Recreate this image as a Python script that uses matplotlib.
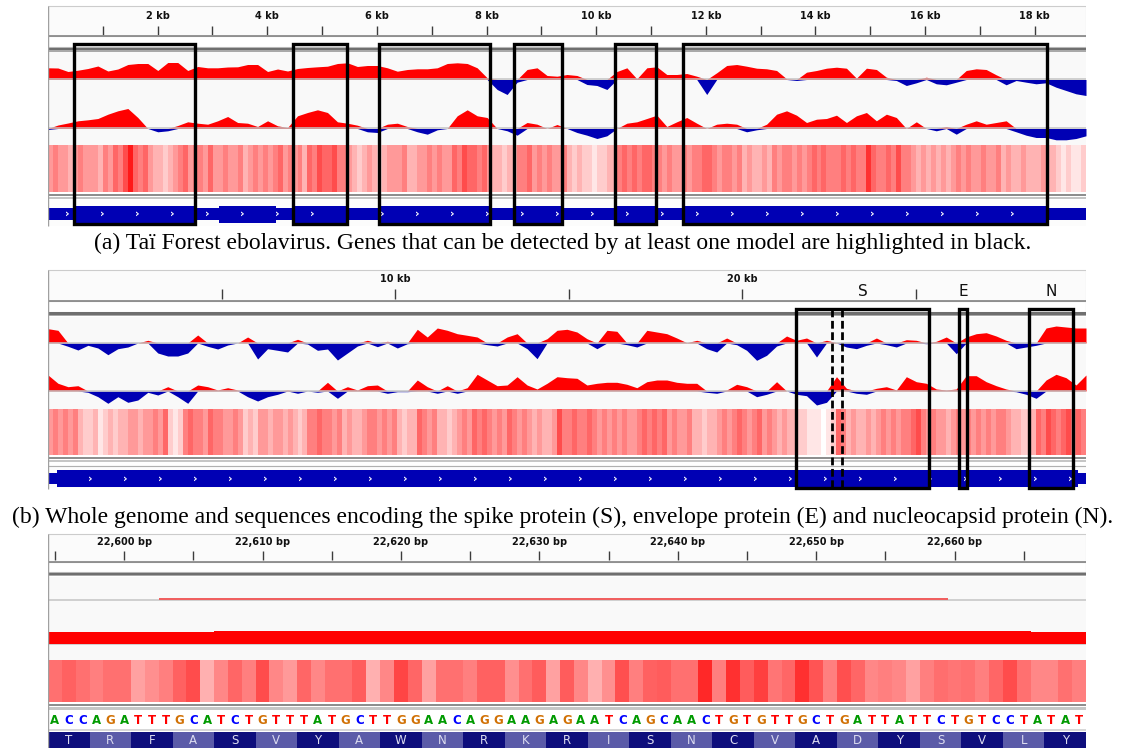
import numpy as np
import matplotlib
matplotlib.use("Agg")
import matplotlib.pyplot as plt
from matplotlib.patches import Rectangle
from matplotlib.colors import LinearSegmentedColormap

# ====================== DATA ======================
# ---- Panel (a): Tai Forest ebolavirus ----
A_GENOME_LEN = 18935
A_GENE_NAMES = ["NP", "VP35", "VP40", "GP", "VP30", "VP24", "L"]
A_GENE_START = [470, 3128, 4478, 6039, 8509, 10345, 11581]
A_GENE_END = [2689, 4151, 5459, 8068, 9375, 11100, 18219]
A_HIGHLIGHT = ["NP", "VP40", "GP", "VP30", "VP24", "L"]
A_TRACK1 = [11.7, 11.5, 8, 9.3, 11, 13.5, 8.5, 10.5, 15, 16, 16, 9, 17, 17, 9, 13, 11.7, 11.7,
            12.5, 12.7, 15, 15, 8, 10.5, 8.5, 11, 12, 12.7, 13.3, 16, 16.7, 13, 14, 14, 11.7,
            8.3, 10, 10.7, 10.7, 11.7, 16, 16.7, 16, 11.7, 1.7, -10, -15, -2.7, 10, 11.7, 4,
            3.3, 5, 4, -5, -6, -10, 8, 11.7, 0.7, 11.7, 12.7, 5, 5, 6, 3.3, -15, 6.7, 14, 15,
            13.3, 11.3, 10.7, 9, 0.7, -1, 7.3, 9, 11.3, 12.3, 11.3, 1.3, 11.3, 10, 2.3, -1, -6,
            -3.3, 2.3, -4.3, -5.3, -2.7, 9, 10.7, 10, 4.7, -5.3, -1, -2.7, -4.3, -3.3, -7.7,
            -11, -14.3, -16]
A_TRACK2 = [-1, 3.5, 5.5, 7.7, 8.7, 10, 14.3, 17.7, 20, 11, 0, -3.3, -2.3, 3, 6.7, 5.3, 4.3,
            7.7, 12, 6, 5.3, 2, 7.7, 2.7, 1, 12.7, 16, 18.7, 16, 6.7, 5.3, 3.3, -3.3, -4, 4.3,
            5.3, 2, -3.3, -5.7, -1.3, 0, 12.7, 18.7, 12.7, 11, 0, -2.3, -6.7, 6, 4.3, 0, 4, 0,
            -4, -6.7, -10, -7.3, 0, 5.3, 6.7, 10, 13.3, 2, 6.7, 11, 5.3, 0, 4.3, 5.3, 4.3,
            -3.3, -1.3, 4.3, 14.3, 17.7, 13.3, 6, 9.3, 10, 13.3, 6, 12.7, 16, 7.7, 14.3, 11, 0,
            6.7, 0, -2.3, 2, -5.7, 4.3, 7.7, 4.3, 6, 7.7, -3.3, -6.7, -9, -9, -11.3, -11.3,
            -10, -7.3]
A_HEAT = [4, 5, 4, 4, 3, 4, 5, 4, 4, 4, 3, 5, 4, 6, 5, 7, 9, 6, 5, 6, 4, 3, 3, 2, 3, 4, 5, 6,
          4, 5, 5, 4, 6, 4, 4, 5, 4, 4, 5, 3, 4, 5, 4, 5, 4, 5, 6, 4, 5, 4, 5, 3, 6, 5, 7, 6,
          6, 7, 5, 5, 4, 3, 2, 3, 4, 3, 2, 3, 4, 4,
          4, 5, 3, 3, 4, 4, 5, 4, 5, 4, 4, 6, 5, 7, 6, 6, 5, 6, 4, 3, 3, 2, 3, 3, 5, 5, 6, 4,
          5, 4, 5, 4, 4, 5, 3, 2, 3, 2, 2, 1, 2, 2, 3, 3, 5, 6, 5, 6, 5, 6, 6, 5, 5, 4, 5, 4,
          4, 5, 4, 5, 5, 6, 6, 5, 4, 5, 5, 4, 5,
          3, 4, 3, 3, 4, 3, 5, 4, 5, 5, 4, 5, 4, 5, 6, 5, 6, 5, 5, 5, 6, 5, 6, 5, 5, 8, 6, 5,
          5, 6, 5, 7, 5, 5, 4, 3, 4, 3, 4, 3, 4, 3, 4, 5, 4, 5, 4, 4, 5, 4, 4, 5, 3, 4, 3, 3,
          4, 3, 3, 3, 4, 3, 3, 2, 1, 2, 1, 1, 2]
A_CAPTION = ("(a) Taï Forest ebolavirus. Genes that can be detected by at least one model "
             "are highlighted in black.")

# ---- Panel (b): SARS-CoV-2 whole genome ----
B_GENOME_LEN = 29903
B_CDS = [266, 29674]
B_GENE_NAMES = ["S", "E", "N"]
B_GENE_START = [21563, 26245, 28274]
B_GENE_END = [25384, 26472, 29533]
B_DASHED = [22600, 22880]
B_TRACK1 = [14.3, 12.7, -3.3, -7, -2.3, -5, -11.7, -5.7, -4, 0, 2.7, -10, -13, -13, -10, 8,
            -3.3, -6, -2, 0, 6, -16, -5.7, -7.3, -9, 3.7, -1, -7.3, -6, -17, -10, -3, 2.7,
            -3.7, 1.7,
            -5, -0.7, 13.7, 6, 15, 12.7, 9.3, 7.7, 6, -1.7, -3, 6, 9.3, -5.7, -15.7, 4.3, 12.7,
            13.7, 11, 4.3, -5.7, 12.7, 11.7, -1.7, -4, 12.7, 11, 9.3, 5, 0.3, 2.7, -5.7, -9,
            5, -1.7,
            -7.3, -17.3, -12.3, -3, 7, 2.7, 5, -14, 2.7, 0.3, -4, -5.7, -2.3, 5, -1.7, -4, 3.3,
            2.7, -0.7, 1.7, 6, -10.7, 6, 9.3, 10.3, 7, 2.7, -5.7, -4, -2.3, 15, 17, 16, 15, 15]
B_TRACK2 = [16, 7.7, 4.3, 5.3, -1.3, -5.7, -12.3, -5.7, -11.3, -9, -1.3, -4, 4.3, -5.7, -12.3,
            6, 4.3, 1, 3.3, 1, -5.7, -10, -5.7, -3.3, 1, -2.3, 0, -1.3, 8.7, -7.3, 4.3, 1, 5.3,
            6, -2.3,
            -0.7, -0.7, 11, 4.3, -2.3, 5.3, -2.3, 3.3, 16.7, 11, 5.3, 6, 14.3, 6, 2, 7.7, 14.3,
            13.3, 12.7, 6, 7.7, 8.7, 8.7, 6.7, 3.3, 9.3, 11, 11, 8.7, 7.7, 7.7, -1.3, -2.3, 1,
            6.7,
            4.3, -5.7, -3.3, 9.3, 0, -3.3, -4.7, -14, -11.3, 14.3, 2.7, -2.3, -3.3, 2.7, 4.3, 1,
            14.3, 9.3, 7.7, 2, 1, 2, 15.3, 15.3, 9.3, 5.3, 2, -0.7, -3.3, -7.3, 11, 16.7, 13.3,
            6, 16]
B_HEAT = [4, 5, 4, 5, 4, 5, 3, 2, 2, 3, 1, 2, 3, 2, 3, 3, 4, 4, 3, 4, 4, 5, 4, 6, 2, 1, 2, 5,
          6, 5, 5, 4, 6, 5, 5, 4, 4, 5, 4, 2, 3, 2, 4, 4, 3, 4, 4, 3, 4, 3, 2, 3, 5, 5, 6, 5,
          5, 4, 5, 3, 4, 3, 3, 4, 5, 5, 4, 5, 4, 5,
          3, 2, 3, 3, 6, 5, 4, 5, 3, 3, 2, 3, 4, 5, 4, 6, 5, 6, 5, 4, 5, 4, 6, 5, 4, 5, 4, 3,
          4, 3, 3, 4, 7, 5, 5, 6, 5, 5, 6, 5, 4, 5, 4, 5, 4, 5, 4, 4, 5, 6, 5, 6, 5, 6, 4, 5,
          4, 4, 5, 3, 3, 2, 3, 3, 4, 5, 4, 5, 6,
          5, 4, 5, 6, 4, 5, 4, 3, 4, 3, 3, 2, 2, 1, 1, 1, 0, 1, 2, 6, 5, 3, 4, 3, 3, 4, 3, 4,
          5, 4, 5, 4, 5, 5, 6, 7, 5, 4, 5, 4, 4, 3, 4, 5, 4, 5, 4, 5, 4, 5, 4, 5, 5, 4, 3, 3,
          2, 2, 3, 6, 5, 7, 6, 5, 6, 7, 5, 6, 5]
B_CAPTION = ("(b) Whole genome and sequences encoding the spike protein (S), envelope protein (E) "
             "and nucleocapsid protein (N).")

# ---- Panel (c): zoom on the spike gene ----
C_START = 22595
C_SEQ = "ACCAGATTTGCATCTGTTTATGCTTGGAACAGGAAGAGAATCAGCAACTGTGTTGCTGATTATTCTGTCCTATAT"
C_AA = "TRFASVYAWNRKRISNCVADYSVLY"
C_TICKS = [22595, 22600, 22605, 22610, 22615, 22620, 22625, 22630, 22635, 22640, 22645,
           22650, 22655, 22660, 22665]
C_TICK_LABELS = [22600, 22610, 22620, 22630, 22640, 22650, 22660]
C_HEAT = [0.56, 0.62, 0.56, 0.50, 0.56, 0.56, 0.37, 0.44, 0.50, 0.62, 0.70, 0.31, 0.47, 0.60,
          0.50, 0.70, 0.47, 0.40, 0.60, 0.47, 0.56, 0.56, 0.64, 0.31, 0.47, 0.73, 0.60, 0.37,
          0.56, 0.56, 0.50, 0.62, 0.62, 0.44, 0.56, 0.64, 0.37,
          0.64, 0.47, 0.31, 0.44, 0.69, 0.50, 0.62, 0.64, 0.56, 0.56, 0.84, 0.50, 0.81, 0.64,
          0.75, 0.54, 0.60, 0.81, 0.67, 0.50, 0.69, 0.60, 0.47, 0.50, 0.47, 0.37, 0.50, 0.57,
          0.54, 0.56, 0.50, 0.60, 0.70, 0.56, 0.47, 0.47, 0.56, 0.50]
C_T1_EDGES = [22594.5, 22602.5, 22659.5, 22669.5]
C_T1_VALS = [0.0, 1.2, 0.0]
C_T2_EDGES = [22594.5, 22606.5, 22665.5, 22669.5]
C_T2_VALS = [12, 13, 12]

# ====================== STYLE / LAYOUT ======================
W, H = 1125, 748
X0, X1 = 48, 1086
RED = "#ff0000"
BLUE = "#0000b4"
TRACK_BG = "#f9f9f9"
NUC_COLORS = {"A": "#009a00", "C": "#0000ff", "G": "#d17105", "T": "#ff0000"}
heat_cmap = LinearSegmentedColormap.from_list("white_red", ["#ffffff", "#ff0000"])

fig = plt.figure(figsize=(W / 100, H / 100), dpi=100)
fig.patch.set_facecolor("white")


def panel_ax(top, bot, lo, hi):
    ax = fig.add_axes([X0 / W, 1 - bot / H, (X1 - X0) / W, (bot - top) / H])
    ax.set_axis_off()
    ax.set_xlim(lo, hi)
    ax.set_ylim(bot, top)
    return ax


def ruler(ax, lo, hi, top, label_y, t0, t1, line, wbot, th0, ticks, labeled, fmt):
    ax.add_patch(Rectangle((lo, top), hi - lo, line - top, fc="#fbfbfb", ec="#cccccc",
                           lw=0.8, zorder=0))
    ax.vlines(ticks, t0, t1, color="#3c3c3c", lw=1.0, zorder=2)
    for t in labeled:
        ax.text(t, label_y, fmt(t), ha="center", va="center", fontsize=7,
                fontweight="bold", color="#111111", family="DejaVu Sans")
    ax.hlines(line, lo, hi, color="#8c8c8c", lw=1.3, zorder=2)
    ax.add_patch(Rectangle((lo, line), hi - lo, wbot - line, fc="white", ec="#b8b8b8",
                           lw=0.8, zorder=1))
    ax.add_patch(Rectangle((lo, th0), hi - lo, 2.3, fc="#6f6f6f", lw=0, zorder=2))
    ax.add_patch(Rectangle((lo, th0 + 2.3), hi - lo, 1.6, fc="#a9a9a9", lw=0, zorder=2))


def area_track(ax, lo, hi, vals, base, top, bot):
    ax.add_patch(Rectangle((lo, top), hi - lo, bot - top, fc=TRACK_BG, lw=0, zorder=0))
    v = np.asarray(vals, float)
    x = np.linspace(lo, hi, len(v))
    ax.fill_between(x, base, base - np.clip(v, 0, None), color=RED, lw=0, zorder=2)
    ax.fill_between(x, base, base - np.clip(v, None, 0), color=BLUE, lw=0, zorder=2)
    ax.hlines(base, lo, hi, color="#c4c4c4", lw=1.1, zorder=3)


def heat(ax, lo, hi, vals, scale, top, bot):
    arr = np.asarray(vals, float)[None, :] / scale
    ax.imshow(arr, cmap=heat_cmap, vmin=0, vmax=1, aspect="auto",
              extent=(lo, hi, bot, top), interpolation="nearest", zorder=1)


def separator(ax, lo, hi, y):
    ax.add_patch(Rectangle((lo, y), hi - lo, 2.0, fc="#8e8e8e", lw=0, zorder=2))
    ax.add_patch(Rectangle((lo, y + 3.0), hi - lo, 2.5, fc="#c6c6c6", lw=0, zorder=2))


def chevrons(ax, lo, hi, y, first_px, step_px, last_px):
    bp_per_px = (hi - lo) / (X1 - X0)
    px = first_px
    while px <= last_px:
        ax.text(lo + (px - X0) * bp_per_px, y, "›", color="white", fontsize=8,
                fontweight="bold", ha="center", va="center", zorder=4)
        px += step_px


# ====================== PANEL (a) ======================
La = A_GENOME_LEN
ax_a = panel_ax(5, 227, 0, La)
ruler(ax_a, 0, La, 6, 16, 26, 35, 36.5, 47, 48,
      np.arange(1000, La, 1000), np.arange(2000, La, 2000), lambda t: f"{int(t) // 1000} kb")
area_track(ax_a, 0, La, A_TRACK1, 79.5, 52, 100)
area_track(ax_a, 0, La, A_TRACK2, 128.5, 100, 145)
heat(ax_a, 0, La, A_HEAT, 10.0, 145, 192)
separator(ax_a, 0, La, 193.5)
ax_a.add_patch(Rectangle((0, 200), La, 26, fc="#fcfcfc", lw=0, zorder=0))
ax_a.add_patch(Rectangle((0, 208), La, 12, fc=BLUE, lw=0, zorder=2))
for s, e in zip(A_GENE_START, A_GENE_END):
    ax_a.add_patch(Rectangle((s, 205.5), e - s, 17, fc=BLUE, lw=0, zorder=2))
chevrons(ax_a, 0, La, 213.5, 67, 35, 1080)
for name, s, e in zip(A_GENE_NAMES, A_GENE_START, A_GENE_END):
    if name in A_HIGHLIGHT:
        ax_a.add_patch(Rectangle((s, 44), e - s, 180, fill=False, ec="black", lw=2.4,
                                 zorder=6, clip_on=False))
ax_a.vlines(0, 6, 226, color="#a0a0a0", lw=1.0, zorder=5)
ax_a.set_xlim(0, La)
ax_a.set_ylim(227, 5)

# ====================== PANEL (b) ======================
Lb = B_GENOME_LEN
ax_b = panel_ax(269, 490, 0, Lb)
ruler(ax_b, 0, Lb, 270, 279, 289, 299, 301, 312, 312.5,
      np.arange(5000, Lb, 5000), [10000, 20000], lambda t: f"{int(t) // 1000} kb")
area_track(ax_b, 0, Lb, B_TRACK1, 343, 317, 366)
area_track(ax_b, 0, Lb, B_TRACK2, 391, 366, 410)
heat(ax_b, 0, Lb, B_HEAT, 10.0, 410, 455.5)
separator(ax_b, 0, Lb, 457)
ax_b.add_patch(Rectangle((0, 465.5), Lb, 23, fc="#fcfcfc", lw=0, zorder=0))
ax_b.hlines(466, 0, Lb, color="#b0b0b0", lw=0.8, zorder=1)
ax_b.add_patch(Rectangle((0, 473), Lb, 11.5, fc=BLUE, lw=0, zorder=2))
ax_b.add_patch(Rectangle((B_CDS[0], 470), B_CDS[1] - B_CDS[0], 17, fc=BLUE, lw=0, zorder=2))
chevrons(ax_b, 0, Lb, 478.5, 90, 35, 1080)
for name, s, e in zip(B_GENE_NAMES, B_GENE_START, B_GENE_END):
    ax_b.add_patch(Rectangle((s, 309), e - s, 179, fill=False, ec="black", lw=2.4,
                             zorder=6, clip_on=False))
    ax_b.text((s + e) / 2, 292, name, ha="center", va="center", fontsize=11,
              color="#111111", family="DejaVu Sans", zorder=6)
ax_b.vlines(B_DASHED, 309, 488, color="black", lw=2.0, linestyles=(0, (2.8, 1.3)), zorder=6)
ax_b.vlines(0, 270, 489, color="#a0a0a0", lw=1.0, zorder=5)
ax_b.set_xlim(0, Lb)
ax_b.set_ylim(490, 269)

# ====================== PANEL (c) ======================
c_lo, c_hi = C_START - 0.5, C_START + len(C_SEQ) - 0.5
ax_c = panel_ax(533, 748, c_lo, c_hi)
ruler(ax_c, c_lo, c_hi, 534, 542, 551, 559.5, 562, 572, 572.5,
      C_TICKS, C_TICK_LABELS, lambda t: f"{int(t):,} bp")
ax_c.add_patch(Rectangle((c_lo, 577), c_hi - c_lo, 84, fc=TRACK_BG, lw=0, zorder=0))
ax_c.hlines(599.6, c_lo, c_hi, color="#c8c8c8", lw=1.2, zorder=1)
ax_c.stairs(599.6 - np.asarray(C_T1_VALS), C_T1_EDGES, baseline=599.6, fill=True,
            color="#f06060", zorder=2)
ax_c.stairs(643.5 - np.asarray(C_T2_VALS), C_T2_EDGES, baseline=643.5, fill=True,
            color=RED, zorder=2)
ax_c.hlines(644.2, c_lo, c_hi, color="#c8c8c8", lw=1.2, zorder=1)
heat(ax_c, c_lo, c_hi, C_HEAT, 1.0, 661, 702.5)
separator(ax_c, c_lo, c_hi, 704)
ax_c.add_patch(Rectangle((c_lo, 711.5), c_hi - c_lo, 17, fc="white", lw=0, zorder=0))
for i, ch in enumerate(C_SEQ):
    ax_c.text(C_START + i, 720, ch, color=NUC_COLORS[ch], fontsize=8.5, fontweight="bold",
              ha="center", va="center", family="DejaVu Sans", zorder=3)
ax_c.hlines(729.5, c_lo, c_hi, color="#d0d0d0", lw=1.2, zorder=1)
for j, aa in enumerate(C_AA):
    x = C_START - 0.5 + 3 * j
    ax_c.add_patch(Rectangle((x, 732), 3, 16, fc="#0e0e7c" if j % 2 == 0 else "#5b5ba8",
                             lw=0, zorder=2))
    ax_c.text(x + 1.5, 740, aa, color="#dcdcf0", fontsize=8.5, ha="center", va="center",
              family="DejaVu Sans", zorder=3)
ax_c.vlines(c_lo, 534, 748, color="#a0a0a0", lw=1.0, zorder=5)
ax_c.set_xlim(c_lo, c_hi)
ax_c.set_ylim(748, 533)

# ====================== CAPTIONS ======================
cap_a = fig.text(563 / W, 1 - 243 / H, A_CAPTION, ha="center", va="center",
                 family="Liberation Serif", fontsize=15)
cap_b = fig.text(563 / W, 1 - 517 / H, B_CAPTION, ha="center", va="center",
                 family="Liberation Serif", fontsize=15)
fig.canvas.draw()
rend = fig.canvas.get_renderer()
for t, target in ((cap_a, 943), (cap_b, 1104)):
    w = t.get_window_extent(rend).width
    t.set_fontsize(t.get_fontsize() * target / w)

fig.savefig("out.png", dpi=100, facecolor="white")
